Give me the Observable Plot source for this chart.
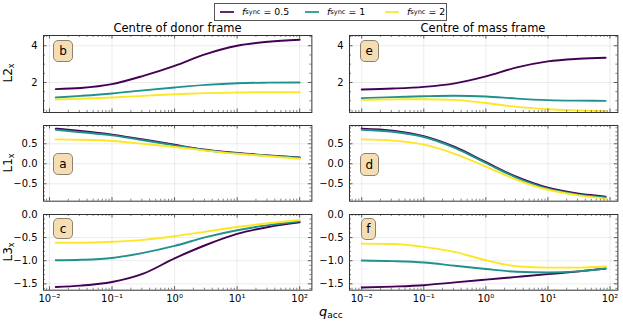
<!DOCTYPE html>
<html><head><meta charset="utf-8">
<script src="https://cdn.jsdelivr.net/npm/d3@7"></script>
<script src="https://cdn.jsdelivr.net/npm/@observablehq/plot@0.6"></script>
<style>
body{margin:0;background:#fff;}
#fig{position:relative;width:623px;height:324px;font-family:"DejaVu Sans",sans-serif;color:#000;overflow:hidden;background:#fff;}
#fig > svg{position:absolute;background:transparent;max-width:none;overflow:visible;}
.lab{position:absolute;background:#f5deb3;border:1px solid #8f836f;border-radius:5px;box-sizing:border-box;font-size:12px;display:flex;align-items:center;justify-content:center;line-height:1;}
.title{position:absolute;font-size:11.5px;white-space:nowrap;transform:translateX(-50%);}
.ylab{position:absolute;font-size:12px;white-space:nowrap;transform:translate(-50%,-50%) rotate(-90deg);}
.ylab sub{font-size:8px;vertical-align:-2px;}
#legend{position:absolute;left:214px;top:2.5px;width:233px;height:18px;border:1px solid #555;box-sizing:border-box;background:#fff;font-size:9.4px;}
.li{position:absolute;top:0;height:16px;display:flex;align-items:center;white-space:nowrap;}
.li svg{margin-right:8px;}
.li sub{font-size:6.6px;vertical-align:-1.5px;}
#xlab{position:absolute;left:319px;top:304px;font-size:13px;white-space:nowrap;}
#xlab sub{font-size:9px;vertical-align:-2px;}
</style></head><body><div id="fig">
<div id="legend"></div>
<div class="title" style="left:177.5px;top:21px;">Centre of donor frame</div>
<div class="title" style="left:483px;top:21px;">Centre of mass frame</div>
<div class="ylab" style="left:8px;top:73px;">L2<sub>x</sub></div>
<div class="ylab" style="left:8px;top:163px;">L1<sub>x</sub></div>
<div class="ylab" style="left:8px;top:252px;">L3<sub>x</sub></div>
<div id="xlab"><i>q</i><sub>acc</sub></div>
</div>
<script>
// f_sync series
const fsync = ["0.5", "1", "2"];
const colors = ["#440154", "#21918c", "#fde725"];

// accretor mass ratios sampled (x values)
const qDonor = [0.0126, 0.0316, 0.1, 0.316, 1, 3.16, 10, 31.6, 100];
const qMass  = [0.01, 0.0316, 0.1, 0.316, 1, 3.16, 10, 31.6, 85];

// L2_x, centre of donor frame (panel b)
const l2DonorF05 = [1.64, 1.70, 1.91, 2.36, 2.91, 3.55, 4.00, 4.22, 4.33];
const l2DonorF1  = [1.18, 1.27, 1.40, 1.57, 1.73, 1.87, 1.96, 1.99, 2.00];
const l2DonorF2  = [1.07, 1.11, 1.18, 1.27, 1.36, 1.42, 1.45, 1.47, 1.47];
// L2_x, centre of mass frame (panel e)
const l2MassF05 = [1.62, 1.67, 1.76, 1.95, 2.33, 2.82, 3.15, 3.29, 3.35];
const l2MassF1  = [1.15, 1.20, 1.25, 1.28, 1.24, 1.12, 1.04, 1.01, 1.00];
const l2MassF2  = [1.05, 1.08, 1.09, 1.05, 0.88, 0.67, 0.54, 0.48, 0.44];
// L1_x, centre of donor frame (panel a)
const l1DonorF05 = [0.88, 0.82, 0.73, 0.61, 0.475, 0.35, 0.27, 0.21, 0.16];
const l1DonorF1  = [0.85, 0.79, 0.71, 0.59, 0.46, 0.34, 0.26, 0.20, 0.15];
const l1DonorF2  = [0.61, 0.60, 0.57, 0.50, 0.42, 0.33, 0.25, 0.19, 0.125];
// L1_x, centre of mass frame (panel d)
const l1MassF05 = [0.88, 0.83, 0.69, 0.42, 0.04, -0.33, -0.60, -0.75, -0.82];
const l1MassF1  = [0.85, 0.80, 0.67, 0.40, 0.02, -0.35, -0.62, -0.77, -0.84];
const l1MassF2  = [0.61, 0.58, 0.48, 0.25, -0.07, -0.40, -0.65, -0.79, -0.87];
// L3_x, centre of donor frame (panel c)
const l3DonorF05 = [-1.57, -1.54, -1.46, -1.28, -0.95, -0.66, -0.42, -0.27, -0.17];
const l3DonorF1  = [-0.99, -0.98, -0.94, -0.83, -0.68, -0.49, -0.34, -0.23, -0.145];
const l3DonorF2  = [-0.61, -0.61, -0.59, -0.55, -0.47, -0.37, -0.27, -0.19, -0.12];
// L3_x, centre of mass frame (panel f)
const l3MassF05 = [-1.58, -1.56, -1.53, -1.47, -1.41, -1.35, -1.29, -1.23, -1.17];
const l3MassF1  = [-0.995, -1.01, -1.04, -1.11, -1.18, -1.24, -1.255, -1.23, -1.17];
const l3MassF2  = [-0.63, -0.64, -0.70, -0.81, -0.99, -1.12, -1.15, -1.15, -1.125];

// tick values and labels
const xMajor = [0.01, 0.1, 1, 10, 100];
const xTickLabels = ["10\u207B\u00B2", "10\u207B\u00B9", "10\u2070", "10\u00B9", "10\u00B2"];
const yTicksL2 = [2, 4];
const yTicksL1 = [-0.5, 0, 0.5];
const yTicksL3 = [-1.5, -1.0, -0.5, 0];
const panelLetters = ["b", "e", "a", "d", "c", "f"];

const fig = document.getElementById("fig");

// legend
const legend = document.getElementById("legend");
const legendX = [5, 90, 170];
fsync.forEach((f, i) => {
  const d = document.createElement("div");
  d.className = "li";
  d.style.left = legendX[i] + "px";
  d.innerHTML = `<svg width="14" height="4"><line x1="0" x2="14" y1="2" y2="2" stroke="${colors[i]}" stroke-width="1.7"/></svg><i>f</i><sub>sync</sub>&nbsp;=&nbsp;${f}`;
  legend.appendChild(d);
});

const innerW = 268.4;
const colX = [43.3, 349];
const xDomains = [[10 ** -2.095, 10 ** 2.195], [10 ** -2.1965, 10 ** 2.1265]];
const rowY = [34.7, 125, 214];
const rowH = [77, 75.7, 75.7];
const yDomains = [[0.365, 4.56], [-0.935, 0.9575], [-1.638, 0]];
const yTicks = [yTicksL2, yTicksL1, yTicksL3];
const yMinorStep = [0.5, 0.1, 0.1];
const yFmt = [d3.format("d"), d3.format(".1f"), d3.format(".1f")];
const panels = [
  [[l2DonorF05, l2DonorF1, l2DonorF2], [l2MassF05, l2MassF1, l2MassF2]],
  [[l1DonorF05, l1DonorF1, l1DonorF2], [l1MassF05, l1MassF1, l1MassF2]],
  [[l3DonorF05, l3DonorF1, l3DonorF2], [l3MassF05, l3MassF1, l3MassF2]]
];

function minorLog(dom) {
  const out = [];
  for (let e = -3; e <= 2; e++) for (let m = 2; m <= 9; m++) {
    const v = m * 10 ** e;
    if (v >= dom[0] && v <= dom[1]) out.push(v);
  }
  return out;
}
function minorLin(dom, step, majors) {
  const out = [];
  const s = Math.ceil(dom[0] / step - 1e-9), e = Math.floor(dom[1] / step + 1e-9);
  for (let k = s; k <= e; k++) {
    const v = +(k * step).toFixed(6);
    if (!majors.some(m => Math.abs(m - v) < 1e-9)) out.push(v);
  }
  return out;
}

const ml = 40, mr = 4, mt = 4;
for (let r = 0; r < 3; r++) {
  for (let c = 0; c < 2; c++) {
    const q = c === 0 ? qDonor : qMass;
    const ys = panels[r][c];
    const data = ys.flatMap((arr, i) => arr.map((v, j) => ({q: q[j], v, s: fsync[i]})));
    const bottom = r === 2;
    const mb = bottom ? 24 : 4;
    const ih = rowH[r];
    const xd = xDomains[c], yd = yDomains[r];
    const xMaj = xMajor.filter(v => v >= xd[0] && v <= xd[1]);
    const xMin = minorLog(xd);
    const yMaj = yTicks[r].filter(v => v >= yd[0] - 1e-9 && v <= yd[1] + 1e-9);
    const yMin = minorLin(yd, yMinorStep[r], yMaj);
    const tc = "#333";
    const marks = [
      Plot.gridX(xMaj, {x: d => d, stroke: "#000", strokeOpacity: 0.1, strokeWidth: 0.8}),
      Plot.gridY(yMaj, {y: d => d, stroke: "#000", strokeOpacity: 0.1, strokeWidth: 0.8}),
      Plot.line(data, {x: "q", y: "v", z: "s", stroke: "s", strokeWidth: 1.9, curve: "monotone-x"}),
      Plot.frame({stroke: tc, strokeWidth: 1}),
      // inward major/minor ticks on all four sides
      Plot.ruleX(xMaj, {x: d => d, insetTop: ih - 3.5, stroke: tc, strokeWidth: 0.8}),
      Plot.ruleX(xMaj, {x: d => d, insetBottom: ih - 3.5, stroke: tc, strokeWidth: 0.8}),
      Plot.ruleX(xMin, {x: d => d, insetTop: ih - 2, stroke: tc, strokeWidth: 0.6}),
      Plot.ruleX(xMin, {x: d => d, insetBottom: ih - 2, stroke: tc, strokeWidth: 0.6}),
      Plot.ruleY(yMaj, {y: d => d, insetRight: innerW - 3.5, stroke: tc, strokeWidth: 0.8}),
      Plot.ruleY(yMaj, {y: d => d, insetLeft: innerW - 3.5, stroke: tc, strokeWidth: 0.8}),
      Plot.ruleY(yMin, {y: d => d, insetRight: innerW - 2, stroke: tc, strokeWidth: 0.6}),
      Plot.ruleY(yMin, {y: d => d, insetLeft: innerW - 2, stroke: tc, strokeWidth: 0.6}),
      Plot.axisY(yMaj, {tickSize: 0, tickPadding: 6, tickFormat: yFmt[r], fill: "#000", label: null})
    ];
    if (bottom) marks.push(Plot.axisX(xMaj, {tickSize: 0, tickPadding: 5, tickFormat: d => xTickLabels[xMajor.indexOf(d)], fill: "#000", label: null}));
    const svg = Plot.plot({
      width: innerW + ml + mr,
      height: ih + mt + mb,
      marginLeft: ml, marginRight: mr, marginTop: mt, marginBottom: mb,
      style: {fontFamily: "DejaVu Sans", fontSize: "10px", color: "#000", background: "transparent", overflow: "visible"},
      x: {type: "log", domain: xd, axis: null, label: null},
      y: {domain: yd, axis: null, label: null},
      color: {domain: fsync, range: colors},
      marks
    });
    svg.style.position = "absolute";
    svg.style.left = (colX[c] - ml) + "px";
    svg.style.top = (rowY[r] - mt) + "px";
    fig.appendChild(svg);
  }
}

// panel letter boxes
const labBoxes = [
  [53.3, 40, 19.5, 21.7], [360, 40, 18.5, 21.7],
  [53.3, 153.3, 19.5, 22], [360, 153.3, 18.5, 22.5],
  [53.3, 218, 19.5, 21], [361, 218, 14.5, 22]
];
panelLetters.forEach((t, i) => {
  const [x, y, w, h] = labBoxes[i];
  const d = document.createElement("div");
  d.className = "lab";
  d.style.left = x + "px"; d.style.top = y + "px";
  d.style.width = w + "px"; d.style.height = h + "px";
  d.textContent = t;
  fig.appendChild(d);
});
</script>
</body></html>
